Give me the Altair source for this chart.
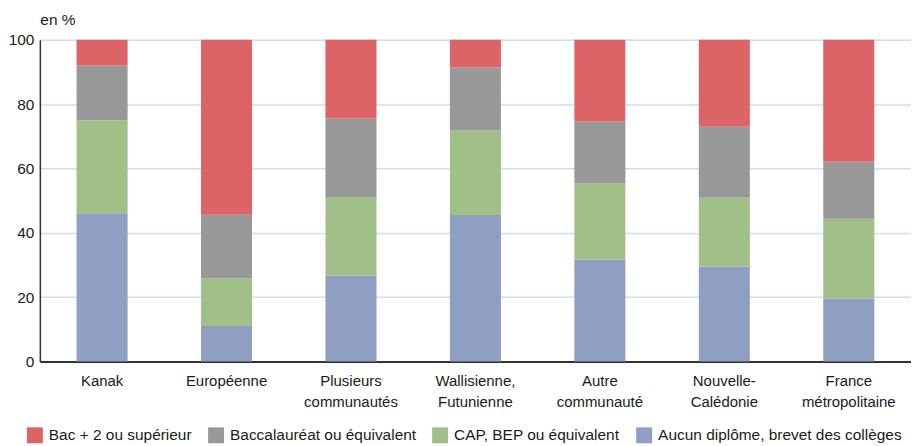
import altair as alt
import pandas as pd

categories = ["Kanak", "Européenne", "Plusieurs|communautés", "Wallisienne,|Futunienne",
              "Autre|communauté", "Nouvelle-|Calédonie", "France|métropolitaine"]
series = ["Bac + 2 ou supérieur", "Baccalauréat ou équivalent", "CAP, BEP ou équivalent",
          "Aucun diplôme, brevet des collèges"]
colors = ["#dc6466", "#989898", "#a0c088", "#8f9ec3"]

aucun = [46.1, 11.0, 26.7, 45.5, 31.7, 29.5, 19.6]
cap = [28.8, 14.8, 24.4, 26.3, 23.6, 21.4, 24.8]
bac = [17.1, 19.8, 24.4, 19.6, 19.3, 22.1, 17.7]
bac2 = [8.0, 54.4, 24.5, 8.6, 25.4, 27.0, 37.9]

rows = []
for i, c in enumerate(categories):
    for s, vals, o in [(series[3], aucun, 0), (series[2], cap, 1), (series[1], bac, 2), (series[0], bac2, 3)]:
        rows.append({"cat": c, "serie": s, "val": vals[i], "ord": o})
df = pd.DataFrame(rows)

font = "Liberation Sans"

chart = alt.Chart(df).mark_bar().encode(
    x=alt.X("cat:N", sort=categories, title=None,
            scale=alt.Scale(paddingInner=0.59, paddingOuter=0.295),
            axis=alt.Axis(labelExpr="split(datum.label, '|')", labelAngle=0,
                          labelFontSize=15, labelColor="#1a1a1a", labelFont=font,
                          labelLineHeight=21, labelPadding=12, ticks=False,
                          domainColor="#333333", domainWidth=2, grid=False)),
    y=alt.Y("val:Q", stack="zero", title="en %",
            scale=alt.Scale(domain=[0, 100], nice=False),
            axis=alt.Axis(values=[0, 20, 40, 60, 80, 100], ticks=False, labelPadding=6,
                          labelFontSize=15.5, labelColor="#1a1a1a", labelFont=font,
                          domainColor="#333333", domainWidth=1.5,
                          gridColor="#c6e2f4", gridWidth=1.5,
                          titleAngle=0, titleAlign="left", titleBaseline="middle",
                          titleX=0, titleY=-20, titleFontSize=15.5, titleFontWeight="normal",
                          titleFont=font, titleColor="#1a1a1a")),
    color=alt.Color("serie:N", scale=alt.Scale(domain=series, range=colors), title=None,
                    legend=alt.Legend(orient="none", legendX=-13, legendY=389,
                                      direction="horizontal", symbolType="square",
                                      symbolSize=256, symbolStrokeWidth=0, labelFontSize=15.5,
                                      labelFont=font, labelColor="#1a1a1a", labelOffset=6,
                                      columnPadding=16, labelLimit=400)),
    order=alt.Order("ord:Q", sort="ascending"),
).properties(
    width=875, height=323,
    autosize=alt.AutoSizeParams(type="none"),
    padding={"left": 32, "top": 31, "right": 0, "bottom": 84},
).configure_view(stroke=None).configure(background="white")

chart.save("out.html", embed_options={"renderer": "svg", "actions": False})
